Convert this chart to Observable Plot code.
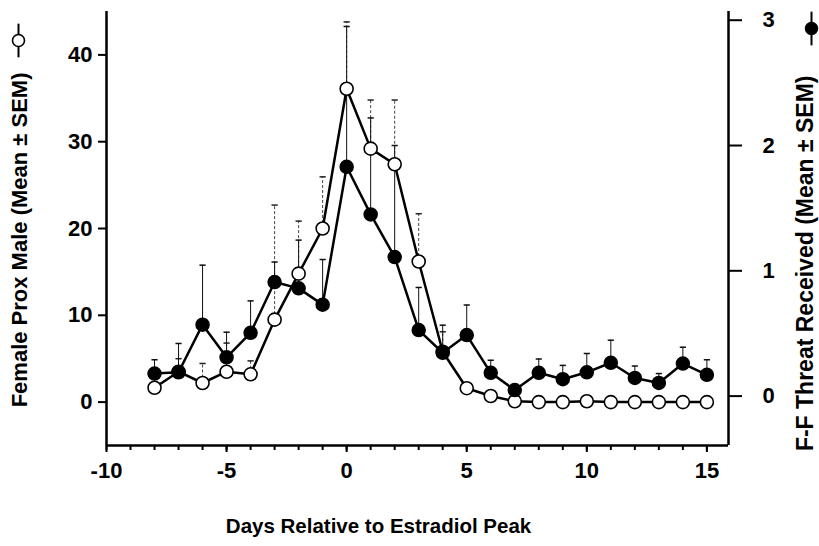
<!DOCTYPE html>
<html>
<head>
<meta charset="utf-8">
<script src="https://cdn.jsdelivr.net/npm/d3@7"></script>
<script src="https://cdn.jsdelivr.net/npm/@observablehq/plot@0.6"></script>
<style>
  html, body { margin: 0; padding: 0; background: #fff; }
  #chart svg { display: block; }
</style>
</head>
<body>
<div id="chart"></div>
<script>
// ---- data ----
const days = [-8,-7,-6,-5,-4,-3,-2,-1,0,1,2,3,4,5,6,7,8,9,10,11,12,13,14,15];
// Female Prox Male (left axis), mean and SEM (upper bar)
const proxMean = [1.65,3.5,2.2,3.5,3.2,9.5,14.8,20.0,36.1,29.2,27.4,16.2,5.8,1.6,0.7,0.1,0,0,0.1,0,0,0,0,0];
const proxSEM  = [0,1.5,2.25,3.3,1.55,13.2,6.05,5.95,7.7,5.6,7.4,5.5,2.3,0,0,0,0,0,0,0,0,0,0,0];
// F-F Threat Received (right axis), mean and SEM (upper bar)
const threatMean = [0.18,0.19,0.57,0.31,0.505,0.91,0.86,0.73,1.83,1.45,1.11,0.527,0.346,0.487,0.186,0.048,0.186,0.135,0.19,0.266,0.145,0.105,0.26,0.17];
const threatSEM  = [0.11,0.23,0.475,0.2,0.255,0.16,0.385,0.36,1.12,0.77,0.89,0.34,0.22,0.24,0.10,0,0.11,0.11,0.15,0.18,0.095,0.075,0.13,0.12];

const xTicksMajor = [-10,-5,0,5,10,15];
const xTicksMinor = d3.range(-10, 16);
const leftTicks = [0,10,20,30,40];
const rightTicks = [0,1,2,3];

const xTitle = "Days Relative to Estradiol Peak";
const leftTitle = "Female Prox Male (Mean \u00b1 SEM)";
const rightTitle = "F-F Threat Received (Mean \u00b1 SEM)";

// right axis expressed in left-axis units
const rA = 0.691, rB = 14.435;
const toLeft = v => rA + rB * v;

const prox = days.map((d, i) => ({x: d, y: proxMean[i], top: proxMean[i] + proxSEM[i], sem: proxSEM[i]}));
const threat = days.map((d, i) => ({x: d, y: toLeft(threatMean[i]), top: toLeft(threatMean[i] + threatSEM[i]), sem: threatSEM[i]}));

const capSymbol = {
  draw(ctx, size) {
    const w = Math.sqrt(size);
    ctx.moveTo(-w / 2, 0);
    ctx.lineTo(w / 2, 0);
  }
};
const vbarSymbol = {
  draw(ctx, size) {
    const h = Math.sqrt(size);
    ctx.moveTo(0, -h / 2);
    ctx.lineTo(0, h / 2);
  }
};

const xDomain = [-10, 15.9];
const yDomain = [-5, 45];
const font = "'Liberation Sans', Arial, Helvetica, sans-serif";

const plot = Plot.plot({
  width: 819,
  height: 546,
  marginLeft: 106,
  marginRight: 91,
  marginTop: 11,
  marginBottom: 101,
  style: {fontFamily: font, fontWeight: "bold", fontSize: "22px", color: "#000", background: "#fff"},
  x: {domain: xDomain},
  y: {domain: yDomain},
  marks: [
    // axes
    Plot.axisX({ticks: xTicksMinor, tickSize: 5, tickFormat: () => "", strokeWidth: 2, label: null}),
    Plot.axisX({ticks: xTicksMajor, tickSize: 7, tickPadding: 10, tickFormat: d => String(d), strokeWidth: 2, label: null, fontSize: 22}),
    Plot.axisY({ticks: leftTicks, tickSize: 8, tickPadding: 6, tickFormat: d => String(d), strokeWidth: 2, label: null, fontSize: 22}),
    Plot.axisY({anchor: "right", ticks: rightTicks.map(toLeft), tickFormat: () => "", tickSize: 13, strokeWidth: 2, label: null}),
    Plot.text(rightTicks, {x: xDomain[1], y: toLeft, text: d => String(d), dx: 40, textAnchor: "middle", fontSize: 22, fontWeight: "bold"}),
    Plot.ruleX([xDomain[0], xDomain[1]], {stroke: "#000", strokeWidth: 2.5}),
    Plot.ruleY([yDomain[0]], {stroke: "#000", strokeWidth: 2.5}),
    // error bars
    Plot.ruleX(prox.filter(d => d.sem > 0), {x: "x", y1: "y", y2: "top", stroke: "#444", strokeWidth: 1, strokeDasharray: "3,2"}),
    Plot.dot(prox.filter(d => d.sem > 0), {x: "x", y: "top", symbol: capSymbol, r: 3.5, stroke: "#222", strokeWidth: 1.5, fill: "none"}),
    Plot.ruleX(threat.filter(d => d.sem > 0), {x: "x", y1: "y", y2: "top", stroke: "#111", strokeWidth: 1}),
    Plot.dot(threat.filter(d => d.sem > 0), {x: "x", y: "top", symbol: capSymbol, r: 3.5, stroke: "#111", strokeWidth: 1.5, fill: "none"}),
    // open series
    Plot.line(prox, {x: "x", y: "y", stroke: "#000", strokeWidth: 2.5}),
    Plot.dot(prox, {x: "x", y: "y", r: 6.5, fill: "#fff", stroke: "#000", strokeWidth: 1.6}),
    // filled series
    Plot.line(threat, {x: "x", y: "y", stroke: "#000", strokeWidth: 2.5}),
    Plot.dot(threat, {x: "x", y: "y", r: 6.5, fill: "#000", stroke: "#000"}),
    // titles
    Plot.text([xTitle], {text: d => d, frameAnchor: "bottom", dx: -39, dy: 87, fontSize: 20.5, fontWeight: "bold"}),
    Plot.text([leftTitle], {text: d => d, frameAnchor: "top-left", dx: -95, dy: 61, rotate: -90, textAnchor: "end", fontSize: 22, fontWeight: "bold"}),
    Plot.text([rightTitle], {text: d => d, frameAnchor: "top-right", dx: 68, dy: 64, rotate: -90, textAnchor: "end", fontSize: 23, fontWeight: "bold"}),
    // legend keys next to the axis titles
    Plot.dot([leftTitle], {frameAnchor: "top-left", dx: -88, dy: 29, symbol: vbarSymbol, r: 19, stroke: "#000", strokeWidth: 2}),
    Plot.dot([leftTitle], {frameAnchor: "top-left", dx: -88, dy: 29, r: 6, fill: "#fff", stroke: "#000", strokeWidth: 1.6}),
    Plot.dot([rightTitle], {frameAnchor: "top-right", dx: 83, dy: 17, symbol: vbarSymbol, r: 19, stroke: "#000", strokeWidth: 2}),
    Plot.dot([rightTitle], {frameAnchor: "top-right", dx: 83, dy: 17, r: 6, fill: "#000", stroke: "#000"})
  ]
});
document.getElementById("chart").appendChild(plot);
</script>
</body>
</html>
